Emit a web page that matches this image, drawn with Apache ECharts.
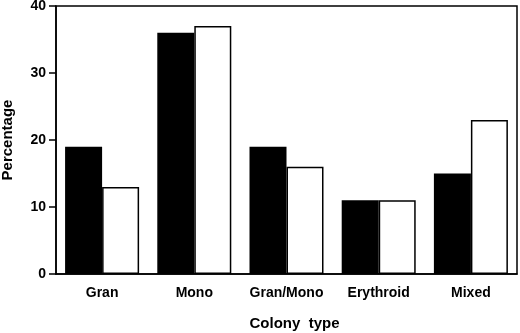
<!DOCTYPE html>
<html>
<head>
<meta charset="utf-8">
<script src="https://cdn.jsdelivr.net/npm/echarts@6/dist/echarts.min.js"></script>
<style>
html, body { margin: 0; padding: 0; background: #fff; }
#chart { width: 520px; height: 333px; }
</style>
</head>
<body>
<div id="chart"></div>
<script>
var categories = ['Gran', 'Mono', 'Gran/Mono', 'Erythroid', 'Mixed'];
var blackData = [19, 36, 19, 11, 15];
var whiteData = [13, 37, 16, 11, 23];
var yTicks = [0, 10, 20, 30, 40];

var myChart = echarts.init(document.getElementById('chart'));
var font = 'Liberation Sans, Arial, Helvetica, sans-serif';

var option = {
    animation: false,
    backgroundColor: '#fff',
    grid: {
        left: 56,
        right: 3,
        top: 6,
        bottom: 59,
        outerBoundsMode: 'none',
        containLabel: false,
        show: true,
        borderColor: '#000',
        borderWidth: 1.5
    },
    xAxis: {
        type: 'category',
        data: categories,
        name: 'Colony  type',
        nameLocation: 'middle',
        nameGap: 42,
        nameTextStyle: { color: '#000', fontFamily: font, fontWeight: 'bold', fontSize: 15, padding: [0, 0, 0, 16] },
        axisLine: { lineStyle: { color: '#000', width: 1.5 } },
        axisTick: { alignWithLabel: true, length: 6, lineStyle: { color: '#000', width: 1.5 } },
        axisLabel: { color: '#000', fontFamily: font, fontWeight: 'bold', fontSize: 14, margin: 12, interval: 0 },
        splitLine: { show: false }
    },
    yAxis: {
        type: 'value',
        min: yTicks[0],
        max: yTicks[yTicks.length - 1],
        interval: 10,
        name: 'Percentage',
        nameLocation: 'middle',
        nameGap: 41,
        nameTextStyle: { color: '#000', fontFamily: font, fontWeight: 'bold', fontSize: 15 },
        axisLine: { show: true, lineStyle: { color: '#000', width: 1.5 } },
        axisTick: { show: true, length: 7, lineStyle: { color: '#000', width: 1.5 } },
        axisLabel: { color: '#000', fontFamily: font, fontWeight: 'bold', fontSize: 14, margin: 10 },
        splitLine: { show: false }
    },
    series: [
        {
            type: 'bar',
            data: blackData,
            barWidth: 37,
            barGap: 0,
            itemStyle: { color: '#000', borderColor: '#000', borderWidth: 1.5 }
        },
        {
            type: 'bar',
            data: whiteData,
            barWidth: 37,
            itemStyle: { color: '#fff', borderColor: '#000', borderWidth: 1.5 }
        }
    ]
};
myChart.setOption(option);
</script>
</body>
</html>
